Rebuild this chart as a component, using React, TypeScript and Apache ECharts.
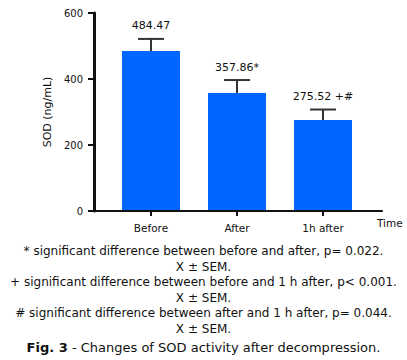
import React, { useEffect, useRef } from "react";
import * as echarts from "echarts";

const categories = ["Before", "After", "1h after"];
const means = [484.47, 357.86, 275.52];
const sems = [37, 39, 32];
const valueLabels = ["484.47", "357.86*", "275.52 +#"];
const yTicks = { min: 0, max: 600, interval: 200 };
const xAxisName = "Time";
const captionLines = [
  "* significant difference between before and after, p= 0.022.",
  "X \u00b1 SEM.",
  "+ significant difference between before and 1 h after, p< 0.001.",
  "X \u00b1 SEM.",
  "# significant difference between after and 1 h after, p= 0.044.",
  "X \u00b1 SEM.",
];
const figTitleBold = "Fig. 3";
const figTitleRest = " - Changes of SOD activity after decompression.";

const FONT = '"DejaVu Sans", Verdana, sans-serif';

export default function App() {
  const ref = useRef<HTMLDivElement>(null);
  useEffect(() => {
    document.body.style.margin = "0";
    const chart = echarts.init(ref.current!, null, { renderer: "svg" });
    const errData = means.map((m, i) => [i, m, sems[i]]);
    const graphics: any[] = captionLines.map((t, i) => ({
      type: "text",
      x: 203.5,
      y: 251 + i * 15.5,
      style: {
        text: t,
        align: "center",
        verticalAlign: "middle",
        font: `12px ${FONT}`,
        fill: "#111",
      },
    }));
    graphics.push({
      type: "text",
      x: 203.5,
      y: 347,
      style: {
        text: `{b|${figTitleBold}}{n|${figTitleRest}}`,
        align: "center",
        verticalAlign: "middle",
        rich: {
          b: { fontFamily: "DejaVu Sans", fontSize: 13, fontWeight: "bold", fill: "#111" },
          n: { fontFamily: "DejaVu Sans", fontSize: 13, fill: "#111" },
        },
      },
    });
    graphics.push({
      type: "text",
      x: 377,
      y: 223,
      style: {
        text: xAxisName,
        align: "left",
        verticalAlign: "middle",
        font: `10.5px ${FONT}`,
        fill: "#111",
      },
    });
    chart.setOption({
      animation: false,
      textStyle: { fontFamily: FONT },
      grid: [
        { left: 108, width: 258, top: 13, height: 198 },
        { left: 94, width: 288, top: 13, height: 198 },
      ],
      xAxis: [
        {
          type: "category",
          gridIndex: 0,
          data: categories,
          axisLine: { show: false },
          axisTick: {
            show: true,
            alignWithLabel: true,
            length: 5,
            lineStyle: { color: "#111", width: 2 },
          },
          axisLabel: { color: "#111", fontSize: 10.5, margin: 11, fontFamily: FONT },
          splitLine: { show: false },
        },
        {
          type: "value",
          gridIndex: 1,
          min: 0,
          max: 1,
          z: 5,
          axisLine: { show: true, lineStyle: { color: "#111", width: 2 } },
          axisTick: { show: false },
          axisLabel: { show: false },
          splitLine: { show: false },
        },
      ],
      yAxis: [
        {
          type: "value",
          gridIndex: 0,
          min: yTicks.min,
          max: yTicks.max,
          interval: yTicks.interval,
          offset: 14,
          axisLine: { show: true, lineStyle: { color: "#111", width: 3 } },
          axisTick: { show: true, length: 6, lineStyle: { color: "#111", width: 2 } },
          axisLabel: {
            color: "#111",
            fontSize: 10,
            margin: 11,
            fontFamily: FONT,
            padding: [0, 0, 6, 0],
          },
          splitLine: { show: false },
          name: "SOD (ng/mL)",
          nameLocation: "middle",
          nameGap: 41,
          nameTextStyle: { color: "#111", fontSize: 11, fontFamily: FONT },
        },
        {
          type: "value",
          gridIndex: 1,
          show: false,
          min: 0,
          max: 1,
        },
      ],
      series: [
        {
          type: "bar",
          xAxisIndex: 0,
          yAxisIndex: 0,
          data: means,
          barWidth: 58,
          itemStyle: { color: "#0066ff" },
          z: 2,
        },
        {
          type: "custom",
          xAxisIndex: 0,
          yAxisIndex: 0,
          data: errData,
          encode: { x: 0, y: 1 },
          clip: false,
          z: 3,
          renderItem: (params: any, api: any) => {
            const idx = api.value(0);
            const mean = api.value(1);
            const sem = api.value(2);
            const base = api.coord([idx, mean]);
            const top = api.coord([idx, mean + sem]);
            const cap = 13;
            return {
              type: "group",
              children: [
                {
                  type: "line",
                  shape: { x1: base[0], y1: base[1], x2: top[0], y2: top[1] },
                  style: { stroke: "#333", lineWidth: 2 },
                },
                {
                  type: "line",
                  shape: { x1: top[0] - cap, y1: top[1], x2: top[0] + cap, y2: top[1] },
                  style: { stroke: "#333", lineWidth: 2 },
                },
                {
                  type: "text",
                  x: top[0],
                  y: top[1] - 13,
                  style: {
                    text: valueLabels[params.dataIndex],
                    align: "center",
                    verticalAlign: "middle",
                    font: `11px ${FONT}`,
                    fill: "#111",
                  },
                },
              ],
            };
          },
        },
      ],
      graphic: graphics,
    });
    return () => chart.dispose();
  }, []);
  return <div ref={ref} style={{ width: 407, height: 360 }} />;
}
